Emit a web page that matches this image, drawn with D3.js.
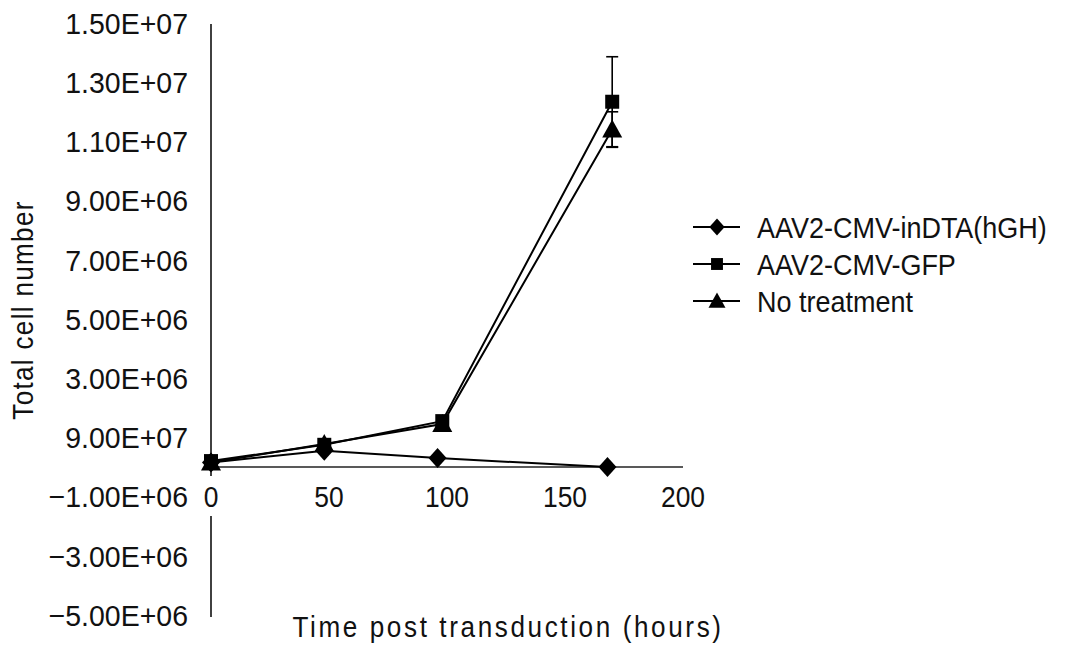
<!DOCTYPE html>
<html>
<head>
<meta charset="utf-8">
<script src="https://cdn.jsdelivr.net/npm/d3@7"></script>
<style>
  html, body { margin: 0; padding: 0; background: #fff; }
  svg text { font-family: "Liberation Sans", Arial, sans-serif; fill: #111; }
</style>
</head>
<body>
<svg id="chart" width="1066" height="653"></svg>
<script>
// ---- data ----
const seriesNames = ["AAV2-CMV-inDTA(hGH)", "AAV2-CMV-GFP", "No treatment"];
const inDTAHours = [0, 48, 96, 168];
const inDTACells = [0.15e6, 0.55e6, 0.3e6, 0.0];
const inDTAErr   = [0, 0, 0, 0];
const gfpHours = [0, 48, 98, 170];
const gfpCells = [0.2e6, 0.75e6, 1.55e6, 1.234e7];
const gfpErr   = [0, 0, 0, 1.52e6];
const ntHours = [0, 48, 98, 170];
const ntCells = [0.15e6, 0.78e6, 1.45e6, 1.14e7];
const ntErr   = [0, 0, 0, 0.6e6];
const yTickValues = [1.5e7, 1.3e7, 1.1e7, 9e6, 7e6, 5e6, 3e6, 1e6, -1e6, -3e6, -5e6];
const yTickLabels = ["1.50E+07", "1.30E+07", "1.10E+07", "9.00E+06", "7.00E+06", "5.00E+06", "3.00E+06", "9.00E+07", "\u22121.00E+06", "\u22123.00E+06", "\u22125.00E+06"];
const xTickValues = [0, 50, 100, 150, 200];
const xTickLabels = ["0", "50", "100", "150", "200"];
const xTitle = "Time post transduction (hours)";
const yTitle = "Total cell number";

const series = [
  { name: seriesNames[0], hours: inDTAHours, cells: inDTACells, err: inDTAErr, symbol: "diamond" },
  { name: seriesNames[1], hours: gfpHours, cells: gfpCells, err: gfpErr, symbol: "square" },
  { name: seriesNames[2], hours: ntHours, cells: ntCells, err: ntErr, symbol: "triangle" }
];

// ---- layout ----
const svg = d3.select("#chart");
const x = d3.scaleLinear().domain([0, 200]).range([211, 683]);
const y = d3.scaleLinear().domain([-5e6, 1.5e7]).range([615, 23]);
const FS = 30;

// narrow text helper: horizontally condensed glyphs
function addText(parent, tx, ty, str, opts) {
  const o = Object.assign({ anchor: "start", sx: 0.85, ls: 0, rot: 0 }, opts || {});
  return parent.append("text")
    .attr("transform", `translate(${tx},${ty}) rotate(${o.rot}) scale(${o.sx},1)`)
    .attr("dy", "0.36em")
    .attr("text-anchor", o.anchor)
    .attr("font-size", FS)
    .attr("letter-spacing", o.ls)
    .text(str);
}

function markerPath(symbol) {
  if (symbol === "diamond") return "M0,-10L9,0L0,10L-9,0Z";
  if (symbol === "square") return "M-7,-7H7V7H-7Z";
  return "M0,-10L10,8H-10Z";
}

// zero line (x axis)
svg.append("line")
  .attr("x1", x(0)).attr("x2", x(200))
  .attr("y1", y(0)).attr("y2", y(0))
  .attr("stroke", "#222").attr("stroke-width", 1.6);

// y axis line
svg.append("line")
  .attr("x1", x(0)).attr("x2", x(0))
  .attr("y1", y(1.5e7) + 1).attr("y2", y(-5e6) + 2)
  .attr("stroke", "#111").attr("stroke-width", 1.6);

// y tick labels
const yg = svg.append("g");
yTickValues.forEach((v, i) => addText(yg, 188, y(v), yTickLabels[i], { anchor: "end", sx: 0.95 }));

// x tick labels with white background (it interrupts the y axis line)
const xg = svg.append("g");
xTickValues.forEach((v, i) => {
  if (v === 0) {
    xg.append("rect").attr("x", x(v) - 10).attr("y", y(0) + 9).attr("width", 20).attr("height", 40).attr("fill", "#fff");
  }
  addText(xg, x(v), y(0) + 29, xTickLabels[i], { anchor: "middle", sx: 0.88 });
});

// axis titles
addText(svg, 508, 626, xTitle, { anchor: "middle", sx: 0.87, ls: 3 });
addText(svg, 22, 310, yTitle, { anchor: "middle", sx: 0.87, ls: 1.5, rot: -90 });

// lines
const line = d3.line().x(d => x(d[0])).y(d => y(d[1]));
series.forEach(s => {
  const pts = s.hours.map((h, i) => [h, s.cells[i]]);
  svg.append("path").attr("d", line(pts))
    .attr("fill", "none").attr("stroke", "#000").attr("stroke-width", 2);
});

// error bars
series.forEach(s => {
  s.hours.forEach((h, i) => {
    if (!s.err[i]) return;
    const cx = x(h), top = y(s.cells[i] + s.err[i]), bot = y(s.cells[i] - s.err[i]);
    const g = svg.append("g").attr("stroke", "#000").attr("stroke-width", 1.6);
    g.append("line").attr("x1", cx).attr("x2", cx).attr("y1", top).attr("y2", bot);
    g.append("line").attr("x1", cx - 6).attr("x2", cx + 6).attr("y1", top).attr("y2", top);
    g.append("line").attr("x1", cx - 6).attr("x2", cx + 6).attr("y1", bot).attr("y2", bot);
  });
});

// markers (diamonds drawn last)
[series[2], series[1], series[0]].forEach(s => {
  svg.append("g").selectAll("path").data(s.hours.map((h, i) => [h, s.cells[i]])).join("path")
    .attr("transform", d => `translate(${x(d[0])},${y(d[1])})`)
    .attr("d", markerPath(s.symbol))
    .attr("fill", "#000");
});

// legend
const legendY = [227, 264, 301];
const lg = svg.append("g");
series.forEach((s, i) => {
  const ly = legendY[i];
  lg.append("line").attr("x1", 693).attr("x2", 740).attr("y1", ly).attr("y2", ly)
    .attr("stroke", "#000").attr("stroke-width", 2);
  lg.append("path").attr("transform", `translate(717,${ly}) scale(0.85)`)
    .attr("d", markerPath(s.symbol)).attr("fill", "#000");
  addText(lg, 757, ly, s.name, { anchor: "start", sx: 0.9 });
});
</script>
</body>
</html>
